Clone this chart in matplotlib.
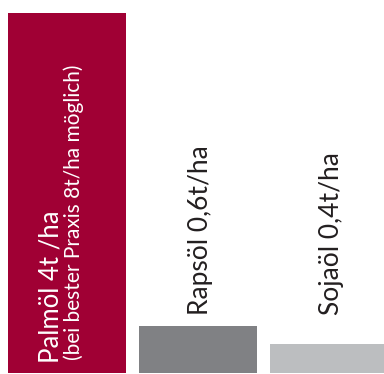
import matplotlib.pyplot as plt
import numpy as np

# bar heights as drawn (not to scale with the labels)
oils = ["Palmöl", "Rapsöl", "Sojaöl"]
heights = [4.0, 0.52, 0.32]
labels = ["Palmöl 4t /ha", "Rapsöl 0,6t/ha", "Sojaöl 0,4t/ha"]
note = "(bei bester Praxis 8t/ha möglich)"
colors = ["#a00034", "#808184", "#bcbec0"]

plt.rcParams['font.family'] = ['Lato', 'DejaVu Sans']

fig = plt.figure(figsize=(3.84, 3.74), dpi=100)
ax = fig.add_axes([0, 0, 1, 1])

location = np.arange(len(oils))
ax.bar(location, heights, width=0.9, color=colors, align="center")

# big bar: text inside
ax.text(-0.125, 0.11, labels[0], rotation=90, ha="center", va="bottom",
        color="white", fontsize=18.5)
ax.text(0.055, 0.15, note, rotation=90, ha="center", va="bottom",
        color="white", fontsize=15)

# small bars: text above
for i in [1, 2]:
    ax.text(location[i] + 0.02, 0.64, labels[i], rotation=90, ha="center",
            va="bottom", color="#231f20", fontsize=19)

ax.set_xlim(-0.511, 2.42)
ax.set_ylim(-0.011, 4.144)
ax.axis("off")

plt.savefig("out.png", dpi=100)
